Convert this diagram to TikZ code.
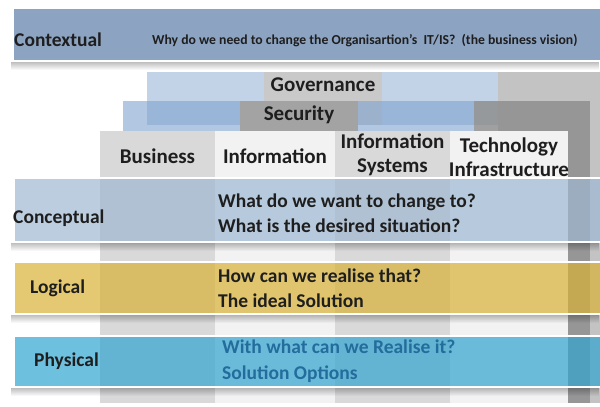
\documentclass[tikz,border=0pt]{standalone}
\usepackage{fontspec}
\setmainfont{Carlito}
\usetikzlibrary{fadings}
\definecolor{ctx}{HTML}{8CA4C2}
\definecolor{concep}{HTML}{9FB8D3}
\definecolor{logic}{HTML}{DAB236}
\definecolor{phys}{HTML}{31A5D1}
\definecolor{physink}{HTML}{236C9C}
\definecolor{ink}{HTML}{1E1E1E}
\definecolor{gblue}{HTML}{C2D3E7}
\definecolor{sblue}{HTML}{7FA2CF}
\definecolor{ggrey}{HTML}{C9C9C9}
\definecolor{gside}{HTML}{C3C3C3}
\definecolor{sgrey}{HTML}{A3A3A3}
\definecolor{sside}{HTML}{8F8F8F}
\definecolor{colA}{HTML}{D9D9D9}
\definecolor{colB}{HTML}{F2F2F2}
\begin{document}
\begin{tikzpicture}[x=1pt,y=-1pt,
  lbl/.style={font=\bfseries\fontsize{19.5}{24}\selectfont, text=ink, inner sep=0pt},
  hdr/.style={font=\bfseries\fontsize{21}{24}\selectfont, text=ink, inner sep=0pt, align=center},
  bandtxt/.style={font=\bfseries\fontsize{19.5}{25.5}\selectfont, text=ink, inner sep=0pt, align=left, anchor=west},
  band/.style={draw=white, line width=2pt, fill opacity=0.7},
  shadow/.style={fill=black, opacity=0.25, path fading=south}]
\useasboundingbox (0,0) rectangle (600,407);
\clip (0,0) rectangle (600,407);
% contextual band
\fill[shadow] (11,62) rectangle (600,70);
\path[draw=white, line width=2pt, fill=ctx] (13,8) rectangle (610,61);
% governance layer
\fill[gblue] (147,72) rectangle (264,125);
\fill[ggrey] (264,72) rectangle (382,125);
\fill[gblue] (382,72) rectangle (498,125);
\fill[gside] (498,72) rectangle (613,403);
% security layer
\fill[sblue, opacity=0.6] (123,101) rectangle (240,150);
\fill[sgrey] (240,101) rectangle (358,150);
\fill[sblue, opacity=0.6] (358,101) rectangle (474,150);
\fill[sside, opacity=0.85] (474,101) rectangle (590,403);
% front columns
\fill[colA] (100,131) rectangle (215,403);
\fill[colB] (215,131) rectangle (335,403);
\fill[colA] (335,131) rectangle (450,403);
\fill[colB] (450,131) rectangle (568,403);
% band shadows
\fill[shadow] (11,243) rectangle (600,251);
\fill[shadow] (11,315) rectangle (600,323);
\fill[shadow] (11,388) rectangle (600,396);
% bands
\path[band, fill=concep] (14,178) rectangle (610,242);
\path[band, fill=logic] (14,262) rectangle (610,314);
\path[band, fill=phys] (14,336) rectangle (610,387);
% texts
\node[lbl, anchor=west] (ctxl) at (14,40) {Contextual};
\node[font=\bfseries\fontsize{13.7}{15}\selectfont, text=ink, inner sep=0pt, anchor=west] (ctxt) at (152,41) {Why do we need to change the Organisartion’s\ \ IT/IS?\ \ (the business vision)};
\node[hdr] (gov) at (323,85) {Governance};
\node[hdr] (sec) at (299,115) {Security};
\node[hdr] (bus) at (157.5,156) {Business};
\node[hdr] (inf) at (275,156) {Information};
\node[hdr] (isy) at (392.5,155) {Information\\Systems};
\node[hdr] (tec) at (509,157) {Technology\\Infrastructure};
\node[lbl, anchor=west] (conl) at (13,218) {Conceptual};
\node[bandtxt] (cont) at (218,213) {What do we want to change to?\\What is the desired situation?};
\node[lbl, anchor=west] (logl) at (30,288) {Logical};
\node[bandtxt] (logt) at (218,288) {How can we realise that?\\The ideal Solution};
\node[lbl, anchor=west] (phyl) at (34,361) {Physical};
\node[bandtxt, text=physink] (phyt) at (222,361) {With what can we Realise it?\\Solution Options};
\end{tikzpicture}
\end{document}
